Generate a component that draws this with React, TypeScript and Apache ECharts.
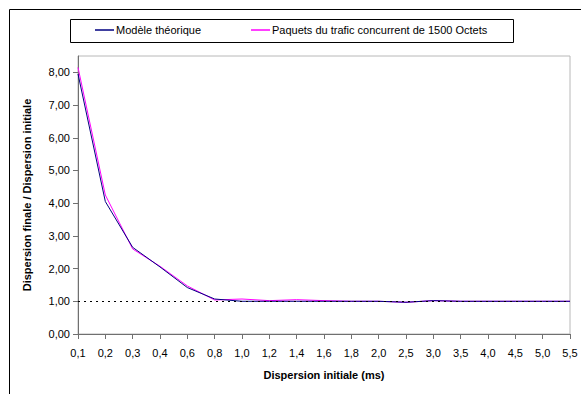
import React, { useEffect, useRef } from "react";
import * as echarts from "echarts";

const categories = ["0,1", "0,2", "0,3", "0,4", "0,6", "0,8", "1,0", "1,2", "1,4", "1,6", "1,8", "2,0", "2,5", "3,0", "3,5", "4,0", "4,5", "5,0", "5,5"];
const modeleTheorique = [7.95, 4.05, 2.65, 2.05, 1.42, 1.07, 1.0, 1.0, 1.0, 1.0, 1.0, 1.0, 0.97, 1.02, 1.0, 1.0, 1.0, 1.0, 1.0];
const paquets1500 = [8.15, 4.25, 2.6, 2.07, 1.47, 1.04, 1.07, 1.02, 1.05, 1.02, 1.0, 1.0, 0.97, 1.02, 1.0, 1.0, 1.0, 1.0, 1.0];
const yTicks = [0, 1, 2, 3, 4, 5, 6, 7, 8];
const seriesNames = ["Modèle théorique", "Paquets du trafic concurrent de 1500 Octets"];

const FONT = "'Liberation Sans', Arial, sans-serif";

export default function App() {
  const ref = useRef<HTMLDivElement>(null);
  useEffect(() => {
    if (!ref.current) return;
    const chart = echarts.init(ref.current, null, { renderer: "svg" });
    chart.setOption({
      animation: false,
      backgroundColor: "#ffffff",
      textStyle: { fontFamily: FONT },
      grid: {
        left: 78,
        right: 11,
        top: 56,
        bottom: 60,
        show: true,
        borderColor: "#b8b8b8",
        borderWidth: 1,
      },
      legend: {
        left: 95,
        top: 24,
        icon: "rect",
        itemWidth: 19,
        itemHeight: 1.5,
        itemGap: 50,
        padding: 0,
        textStyle: { fontFamily: FONT, fontSize: 11, color: "#000", padding: [0, 0, 0, -3], height: 12, lineHeight: 12 },
        data: seriesNames,
      },
      graphic: [
        {
          type: "rect",
          shape: { x: 9.5, y: 9.5, width: 700, height: 500 },
          style: { fill: "none", stroke: "#000", lineWidth: 1 },
          silent: true,
          z: -10,
        },
        {
          type: "rect",
          shape: { x: 70.5, y: 19.5, width: 443, height: 23 },
          style: { fill: "none", stroke: "#000", lineWidth: 1 },
          silent: true,
        },
      ],
      xAxis: {
        type: "category",
        data: categories,
        boundaryGap: false,
        name: "Dispersion initiale (ms)",
        nameLocation: "middle",
        nameGap: 35,
        nameTextStyle: { fontFamily: FONT, fontSize: 11, fontWeight: "bold", color: "#000", verticalAlign: "top" },
        axisLine: { lineStyle: { color: "#707070", width: 1 } },
        axisTick: { show: true, interval: 0, length: 5, inside: false, lineStyle: { color: "#707070" } },
        axisLabel: { interval: 0, margin: 13, fontFamily: FONT, fontSize: 11, color: "#000" },
        splitLine: { show: false },
      },
      yAxis: {
        type: "value",
        min: 0,
        max: 8.5,
        interval: 1,
        name: "Dispersion finale / Dispersion initiale",
        nameLocation: "middle",
        nameGap: 46,
        nameRotate: 90,
        nameTextStyle: { fontFamily: FONT, fontSize: 11, fontWeight: "bold", color: "#000" },
        axisLine: { show: true, lineStyle: { color: "#707070", width: 1 } },
        axisTick: { show: true, length: 5, customValues: yTicks, lineStyle: { color: "#707070" } },
        axisLabel: {
          customValues: yTicks,
          margin: 8,
          fontFamily: FONT,
          fontSize: 11,
          color: "#000",
          formatter: (v: number) => v.toFixed(2).replace(".", ","),
        },
        splitLine: { show: false },
      },
      series: [
        {
          name: seriesNames[0],
          type: "line",
          data: modeleTheorique,
          showSymbol: false,
          symbol: "none",
          lineStyle: { color: "#000080", width: 1 },
          itemStyle: { color: "#000080" },
          z: 3,
          markLine: {
            silent: true,
            symbol: "none",
            label: { show: false },
            lineStyle: { color: "#000", type: [2, 4], width: 1 },
            data: [{ yAxis: 1 }],
          },
        },
        {
          name: seriesNames[1],
          type: "line",
          data: paquets1500,
          showSymbol: false,
          symbol: "none",
          lineStyle: { color: "#ff00ff", width: 1 },
          itemStyle: { color: "#ff00ff" },
          z: 2,
        },
      ],
    });
    return () => chart.dispose();
  }, []);
  return <div ref={ref} style={{ position: "fixed", left: 0, top: 0, width: 581, height: 394 }} />;
}
